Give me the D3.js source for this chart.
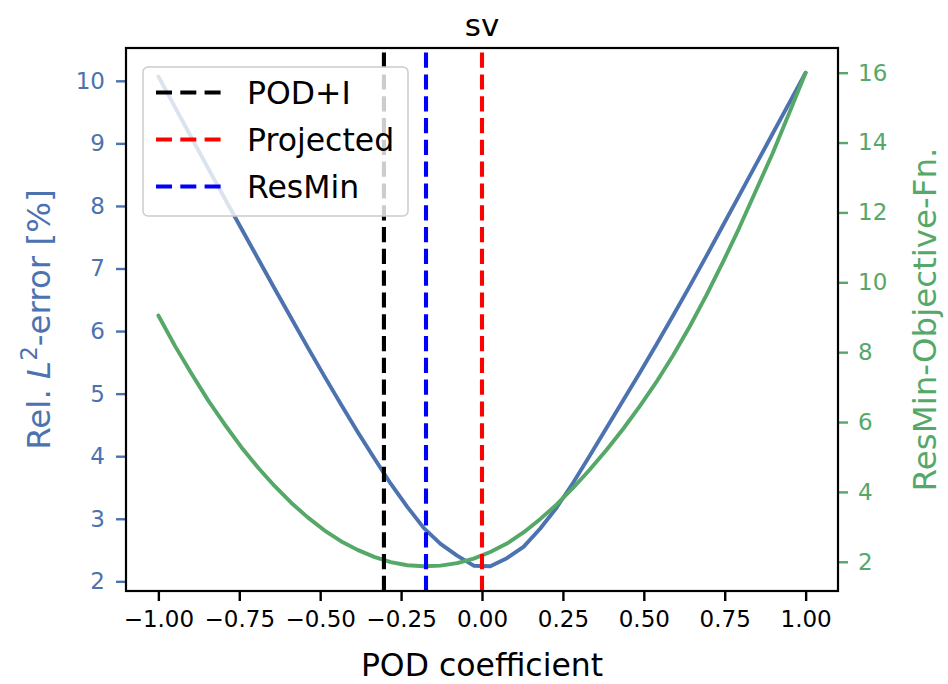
<!DOCTYPE html>
<html><head><meta charset="utf-8">
<script src="https://cdn.jsdelivr.net/npm/d3@7"></script>
<style>
body{margin:0;background:#fff}
svg{display:block}
text{font-family:"DejaVu Sans",sans-serif}
</style>
</head><body>
<svg id="chart" width="948" height="684"></svg>
<script>
// ---- data ----
const podCoeff = [-1.0000,-0.9487,-0.8974,-0.8462,-0.7949,-0.7436,-0.6923,-0.6410,-0.5897,-0.5385,
  -0.4872,-0.4359,-0.3846,-0.3333,-0.2821,-0.2308,-0.1795,-0.1282,-0.0769,-0.0256,
  0.0256,0.0769,0.1282,0.1795,0.2308,0.2821,0.3333,0.3846,0.4359,0.4872,
  0.5385,0.5897,0.6410,0.6923,0.7436,0.7949,0.8462,0.8974,0.9487,1.0000];
const relError = [10.07,9.58,9.09,8.60,8.12,7.64,7.16,6.68,6.21,5.74,
  5.28,4.83,4.39,3.97,3.56,3.19,2.85,2.60,2.41,2.25,
  2.24,2.37,2.55,2.84,3.18,3.58,4.01,4.45,4.89,5.33,
  5.78,6.24,6.71,7.19,7.68,8.17,8.66,9.15,9.64,10.13];
const objective = [9.05,8.18,7.38,6.62,5.93,5.28,4.70,4.17,3.69,3.27,
  2.90,2.59,2.34,2.14,1.99,1.90,1.87,1.89,1.96,2.09,
  2.28,2.52,2.84,3.22,3.64,4.12,4.64,5.20,5.80,6.45,
  7.14,7.90,8.72,9.61,10.56,11.56,12.62,13.68,14.83,16.00];
const markerNames = ["POD+I","Projected","ResMin"];
const markerValues = [-0.303, 0.0, -0.173];
const markerColors = ["#000000","#ff0000","#0000ff"];
const xTicks = [-1.00,-0.75,-0.50,-0.25,0.00,0.25,0.50,0.75,1.00];
const leftTicks = [2,3,4,5,6,7,8,9,10];
const rightTicks = [2,4,6,8,10,12,14,16];
const titleText = "sv";
const xLabel = "POD coefficient";
const rightLabel = "ResMin-Objective-Fn.";

const blueC = "#4c72b0", greenC = "#55a868";
const L = 126, R = 838, T = 48, B = 591;

function padded(ext){ const r = ext[1]-ext[0]; return [ext[0]-0.05*r, ext[1]+0.05*r]; }
const x = d3.scaleLinear().domain(padded(d3.extent(podCoeff))).range([L,R]);
const yL = d3.scaleLinear().domain(padded(d3.extent(relError))).range([B,T]);
const yR = d3.scaleLinear().domain(padded(d3.extent(objective))).range([B,T]);

const svg = d3.select("#chart");
svg.append("rect").attr("width",948).attr("height",684).attr("fill","#fff");

svg.append("clipPath").attr("id","clip").append("rect")
  .attr("x",L).attr("y",T).attr("width",R-L).attr("height",B-T);

const plot = svg.append("g").attr("clip-path","url(#clip)");
const pts = podCoeff.map((p,i)=>({p, e:relError[i], o:objective[i]}));

plot.append("path").datum(pts)
  .attr("d", d3.line().x(d=>x(d.p)).y(d=>yL(d.e)))
  .attr("fill","none").attr("stroke",blueC).attr("stroke-width",3.9)
  .attr("stroke-linejoin","round").attr("stroke-linecap","round");
plot.append("path").datum(pts)
  .attr("d", d3.line().x(d=>x(d.p)).y(d=>yR(d.o)))
  .attr("fill","none").attr("stroke",greenC).attr("stroke-width",3.9)
  .attr("stroke-linejoin","round").attr("stroke-linecap","round");

markerValues.forEach((v,i)=>{
  plot.append("line").attr("x1",x(v)).attr("x2",x(v)).attr("y1",B).attr("y2",T)
    .attr("stroke",markerColors[i]).attr("stroke-width",4.1)
    .attr("stroke-dasharray","15.2,6.6");
});

// axes
function styleAxis(g, color){
  g.select(".domain").remove();
  g.selectAll(".tick line").attr("stroke",color).attr("stroke-width",2.4);
  g.selectAll(".tick text").attr("fill",color).attr("font-size",23)
    .attr("font-family","DejaVu Sans");
}
const gx = svg.append("g").attr("transform",`translate(0,${B})`)
  .call(d3.axisBottom(x).tickValues(xTicks).tickFormat(d3.format(".2f")).tickSize(10).tickPadding(10));
styleAxis(gx,"#000");
const gl = svg.append("g").attr("transform",`translate(${L},0)`)
  .call(d3.axisLeft(yL).tickValues(leftTicks).tickFormat(d3.format("d")).tickSize(10).tickPadding(11));
styleAxis(gl,blueC);
const gr = svg.append("g").attr("transform",`translate(${R},0)`)
  .call(d3.axisRight(yR).tickValues(rightTicks).tickFormat(d3.format("d")).tickSize(10).tickPadding(10));
styleAxis(gr,greenC);

// frame
svg.append("rect").attr("x",L).attr("y",T).attr("width",R-L).attr("height",B-T)
  .attr("fill","none").attr("stroke","#000").attr("stroke-width",2.2);

// legend
const lg = svg.append("g");
lg.append("rect").attr("x",143).attr("y",67).attr("width",265).attr("height",149).attr("rx",5)
  .attr("fill","#fff").attr("fill-opacity",0.8).attr("stroke","#cccccc").attr("stroke-width",1.5);
markerNames.forEach((n,i)=>{
  const yy = 92.5 + i*47;
  lg.append("line").attr("x1",156).attr("x2",221).attr("y1",yy).attr("y2",yy)
    .attr("stroke",markerColors[i]).attr("stroke-width",4.1).attr("stroke-dasharray","16,8.3");
  lg.append("text").attr("x",247).attr("y",yy+11.5).attr("font-size",31.5).attr("fill","#000").text(n);
});

// title and labels
svg.append("text").attr("x",(L+R)/2).attr("y",36).attr("text-anchor","middle")
  .attr("font-size",31).attr("fill","#000").text(titleText);
svg.append("text").attr("x",(L+R)/2).attr("y",676).attr("text-anchor","middle")
  .attr("font-size",31.5).attr("fill","#000").text(xLabel);

const ylab = svg.append("text").attr("transform",`translate(50,${(T+B)/2}) rotate(-90)`)
  .attr("text-anchor","middle").attr("font-size",32.5).attr("fill",blueC);
ylab.append("tspan").text("Rel. ");
ylab.append("tspan").attr("font-style","italic").text("L");
ylab.append("tspan").attr("font-size",23).attr("dy",-13).text("2");
ylab.append("tspan").attr("dy",13).text("-error [%]");

svg.append("text").attr("transform",`translate(936,${(T+B)/2}) rotate(-90)`)
  .attr("text-anchor","middle").attr("font-size",32.5).attr("fill",greenC).text(rightLabel);
</script>
</body></html>
